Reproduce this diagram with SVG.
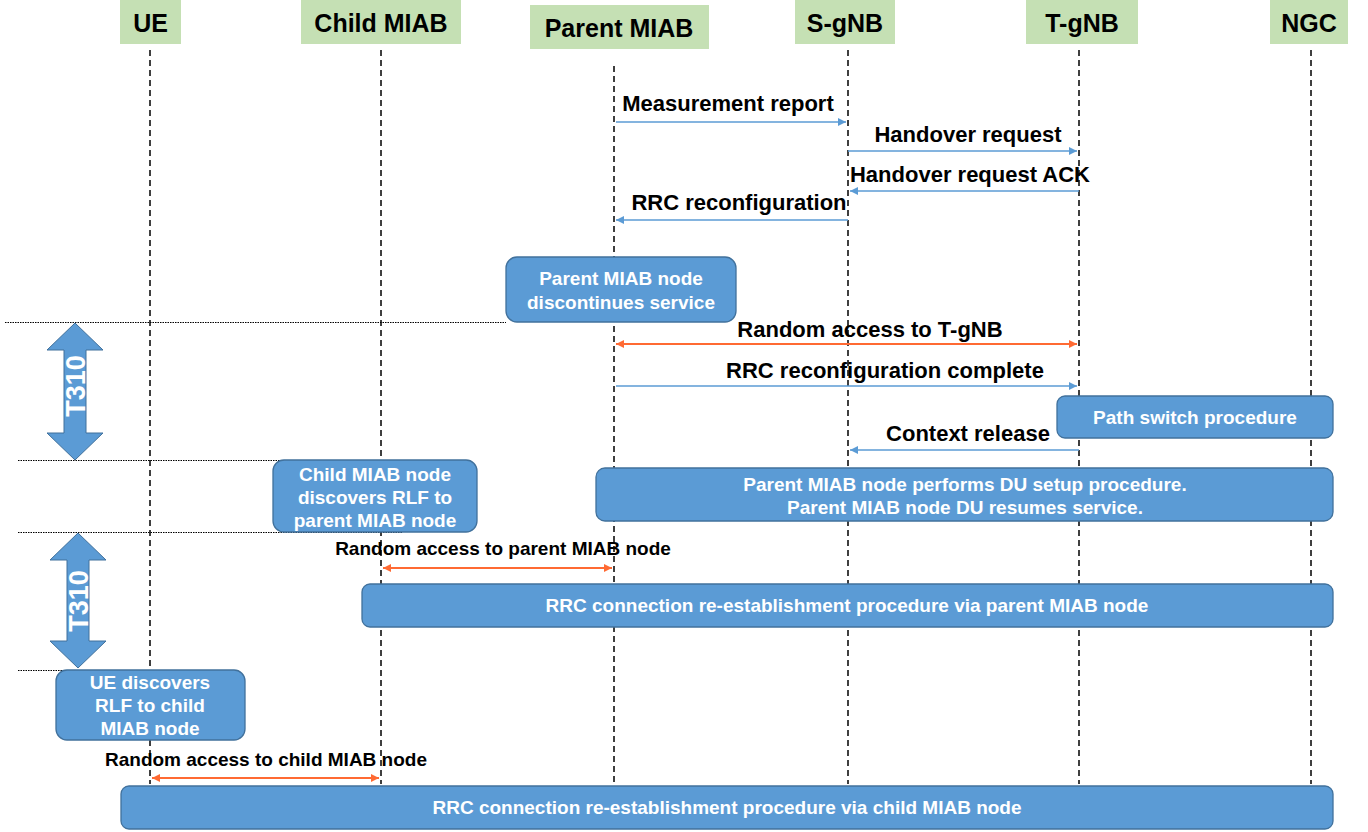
<svg xmlns="http://www.w3.org/2000/svg" width="1368" height="832" viewBox="0 0 1368 832">
<style>
.hdr{fill:#C5E0B4;}
.htxt{font-family:"Liberation Sans",Arial,sans-serif;font-weight:bold;font-size:25px;fill:#000;text-anchor:middle;}
.life{stroke:#000;stroke-width:1.5;stroke-dasharray:6,4;fill:none;}
.msg{font-family:"Liberation Sans",Arial,sans-serif;font-weight:bold;font-size:22px;fill:#000;text-anchor:middle;}
.msgs{font-family:"Liberation Sans",Arial,sans-serif;font-weight:bold;font-size:19px;fill:#000;text-anchor:middle;}
.blue{stroke:#5B9BD5;stroke-width:1.6;fill:none;marker-end:url(#ab);}
.orange{stroke:#FF6A33;stroke-width:2;fill:none;marker-start:url(#ao);marker-end:url(#ao);}
.box{fill:#5B9BD5;stroke:#41719C;stroke-width:1.3;}
.btxt{font-family:"Liberation Sans",Arial,sans-serif;font-weight:bold;font-size:19px;fill:#fff;text-anchor:middle;}
.dot{stroke:#000;stroke-width:1;stroke-dasharray:1.5,1;fill:none;}
.t310{fill:#5B9BD5;stroke:#41719C;stroke-width:1;}
.ttxt{font-family:"Liberation Sans",Arial,sans-serif;font-weight:bold;font-size:27px;fill:#fff;text-anchor:middle;}
</style>
<defs>
<marker id="ab" viewBox="0 0 10 10" refX="10" refY="5" markerWidth="8" markerHeight="8" markerUnits="userSpaceOnUse" orient="auto-start-reverse"><path d="M0,0 L10,5 L0,10 z" fill="#5B9BD5"/></marker>
<marker id="ao" viewBox="0 0 10 10" refX="10" refY="5" markerWidth="8" markerHeight="8" markerUnits="userSpaceOnUse" orient="auto-start-reverse"><path d="M0,0 L10,5 L0,10 z" fill="#FF6A33"/></marker>
</defs>
<rect width="1368" height="832" fill="#fff"/>

<g id="lifelines">
<line class="life" x1="150" y1="50" x2="150" y2="784"/>
<line class="life" x1="381" y1="50" x2="381" y2="784"/>
<line class="life" x1="614" y1="66" x2="614" y2="784"/>
<line class="life" x1="848" y1="50" x2="848" y2="784"/>
<line class="life" x1="1079" y1="50" x2="1079" y2="784"/>
<line class="life" x1="1311" y1="50" x2="1311" y2="784"/>
</g>

<g id="ue"><rect class="hdr" x="120" y="0" width="61" height="44"/><text class="htxt" x="150.5" y="32">UE</text></g>
<g id="child-miab"><rect class="hdr" x="301" y="0" width="160" height="44"/><text class="htxt" x="381" y="32">Child MIAB</text></g>
<g id="parent-miab"><rect class="hdr" x="530" y="5" width="179" height="44"/><text class="htxt" x="619" y="37">Parent MIAB</text></g>
<g id="s-gnb"><rect class="hdr" x="795" y="0" width="100" height="44"/><text class="htxt" x="845" y="32">S-gNB</text></g>
<g id="t-gnb"><rect class="hdr" x="1026" y="0" width="112" height="44"/><text class="htxt" x="1082" y="32">T-gNB</text></g>
<g id="ngc"><rect class="hdr" x="1270" y="0" width="78" height="44"/><text class="htxt" x="1309" y="32">NGC</text></g>

<g id="dotted">
<line class="dot" x1="5" y1="322.5" x2="506" y2="322.5"/>
<line class="dot" x1="18" y1="460.5" x2="402" y2="460.5"/>
<line class="dot" x1="18" y1="532.5" x2="402" y2="532.5"/>
<line class="dot" x1="18" y1="670.5" x2="150" y2="670.5"/>
</g>

<g id="connectors">
<line class="blue" x1="616" y1="122" x2="846" y2="122"/>
<line class="blue" x1="848" y1="151" x2="1077" y2="151"/>
<line class="blue" x1="1079" y1="191" x2="850" y2="191"/>
<line class="blue" x1="848" y1="220" x2="616" y2="220"/>
<line class="orange" x1="616" y1="344" x2="1077" y2="344"/>
<line class="blue" x1="616" y1="386" x2="1077" y2="386"/>
<line class="blue" x1="1079" y1="450" x2="850" y2="450"/>
<line class="orange" x1="383" y1="568" x2="612" y2="568"/>
<line class="orange" x1="152" y1="778" x2="379" y2="778"/>
<text class="msg" x="728" y="111">Measurement report</text>
<text class="msg" x="968" y="142">Handover request</text>
<text class="msg" x="970" y="182">Handover request ACK</text>
<text class="msg" x="739" y="210">RRC reconfiguration</text>
<text class="msg" x="870" y="337">Random access to T-gNB</text>
<text class="msg" x="885" y="378">RRC reconfiguration complete</text>
<text class="msg" x="968" y="441">Context release</text>
<text class="msgs" x="503" y="555">Random access to parent MIAB node</text>
<text class="msgs" x="266" y="766">Random access to child MIAB node</text>
</g>

<g id="box-parent-disc"><rect class="box" x="506" y="257" width="230" height="65" rx="11"/><text class="btxt" x="621" y="285">Parent MIAB node</text><text class="btxt" x="621" y="309">discontinues service</text></g>
<g id="box-path-switch"><rect class="box" x="1057" y="396" width="276" height="42" rx="8"/><text class="btxt" x="1195" y="424">Path switch procedure</text></g>
<g id="box-child-rlf"><rect class="box" x="273" y="460" width="204" height="72" rx="11"/><text class="btxt" x="375" y="481">Child MIAB node</text><text class="btxt" x="375" y="504">discovers RLF to</text><text class="btxt" x="375" y="527">parent MIAB node</text></g>
<g id="box-du-setup"><rect class="box" x="596" y="468" width="737" height="53" rx="9"/><text class="btxt" x="965" y="491">Parent MIAB node performs DU setup procedure.</text><text class="btxt" x="965" y="514">Parent MIAB node DU resumes service.</text></g>
<g id="box-rrc-parent"><rect class="box" x="362" y="584" width="971" height="43" rx="8"/><text class="btxt" x="847" y="612">RRC connection re-establishment procedure via parent MIAB node</text></g>
<g id="box-ue-rlf"><rect class="box" x="56" y="670" width="189" height="70" rx="11"/><text class="btxt" x="150" y="689">UE discovers</text><text class="btxt" x="150" y="712">RLF to child</text><text class="btxt" x="150" y="735">MIAB node</text></g>
<g id="box-rrc-child"><rect class="box" x="121" y="786" width="1212" height="43" rx="8"/><text class="btxt" x="727" y="814">RRC connection re-establishment procedure via child MIAB node</text></g>

<g id="t310-1"><polygon class="t310" points="75,323 103,350 86,350 86,433 103,433 75,460 47,433 64,433 64,350 47,350"/><text class="ttxt" transform="translate(85,386) rotate(-90)">T310</text></g>
<g id="t310-2"><polygon class="t310" points="78,533 106,560 89,560 89,641 106,641 78,668 50,641 67,641 67,560 50,560"/><text class="ttxt" transform="translate(88,601) rotate(-90)">T310</text></g>
</svg>
